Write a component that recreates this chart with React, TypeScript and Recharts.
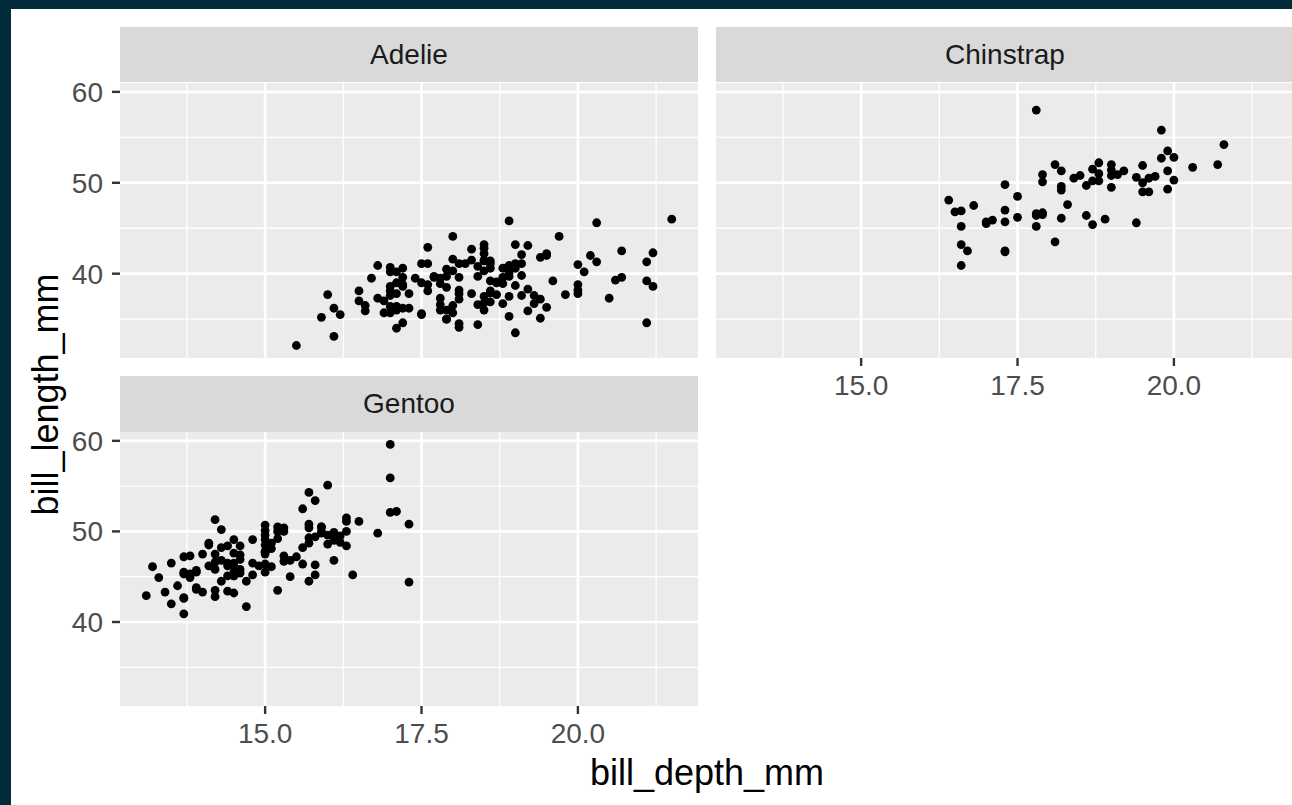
import React from 'react';
import { ScatterChart, Scatter, XAxis, YAxis, CartesianGrid, ReferenceLine } from 'recharts';

const FONT = '"Liberation Sans", Arial, Helvetica, sans-serif';

const speciesNames = ['Adelie', 'Chinstrap', 'Gentoo'];
const xTicks = [15, 17.5, 20];
const xMinor = [13.75, 16.25, 18.75, 21.25];
const yTicks = [40, 50, 60];
const yMinor = [35, 45, 55];
const xDomain: [number, number] = [12.68, 21.92];
const yDomain: [number, number] = [30.725, 60.975];
const xTitle = 'bill_depth_mm';
const yTitle = 'bill_length_mm';

// [bill_depth_mm, bill_length_mm]
const adelie: [number, number][] = [
  [18.7, 39.1], [17.4, 39.5], [18.0, 40.3], [19.3, 36.7], [20.6, 39.3], [17.8, 38.9], [19.6, 39.2], [18.1, 34.1], [20.2, 42.0], [17.1, 37.8],
  [17.3, 37.8], [17.6, 41.1], [21.2, 38.6], [21.1, 34.6], [17.8, 36.6], [19.0, 38.7], [20.7, 42.5], [18.4, 34.4], [21.5, 46.0], [18.3, 37.8],
  [18.7, 37.7], [19.2, 35.9], [18.1, 38.2], [17.2, 38.8], [18.9, 35.3], [18.6, 40.6], [17.9, 40.5], [18.6, 37.9], [18.9, 40.5], [16.7, 39.5],
  [18.1, 37.2], [17.8, 39.5], [18.9, 40.9], [17.0, 36.4], [21.1, 39.2], [20.0, 38.8], [18.5, 42.2], [19.3, 37.6], [19.1, 39.8], [18.0, 36.5],
  [18.4, 40.8], [18.5, 36.0], [19.7, 44.1], [16.9, 37.0], [18.8, 39.6], [19.0, 41.1], [18.9, 37.5], [17.9, 36.0], [21.2, 42.3], [17.7, 39.6],
  [18.9, 40.1], [17.9, 35.0], [19.5, 42.0], [18.1, 34.5], [18.6, 41.4], [17.5, 39.0], [18.8, 40.6], [16.6, 36.5], [19.1, 37.6], [16.9, 35.7],
  [21.1, 41.3], [17.0, 37.6], [18.2, 41.1], [17.1, 36.4], [18.0, 41.6], [16.2, 35.5], [19.1, 41.1], [16.6, 35.9], [19.4, 41.8], [19.0, 33.5],
  [18.4, 39.7], [17.2, 39.6], [18.9, 45.8], [17.5, 35.5], [18.5, 42.8], [16.8, 40.9], [19.4, 37.2], [16.1, 36.2], [19.1, 42.1], [17.2, 34.6],
  [17.6, 42.9], [18.8, 36.7], [19.4, 35.1], [17.8, 37.3], [20.3, 41.3], [19.5, 36.3], [18.6, 36.9], [19.2, 38.3], [18.8, 38.9], [18.0, 35.7],
  [18.1, 41.1], [17.1, 34.0], [18.1, 39.6], [17.3, 36.2], [18.9, 40.8], [18.6, 38.1], [18.5, 40.3], [16.1, 33.1], [18.5, 43.2], [17.9, 35.0],
  [20.0, 41.0], [16.0, 37.7], [20.0, 37.8], [18.6, 37.9], [18.9, 39.7], [17.2, 38.6], [20.0, 38.2], [17.0, 38.1], [19.0, 43.2], [16.5, 38.1],
  [20.3, 45.6], [17.7, 39.7], [19.5, 42.2], [20.7, 39.6], [18.3, 42.7], [17.0, 38.6], [20.5, 37.3], [17.0, 35.7], [18.6, 41.1], [17.2, 36.2],
  [19.8, 37.7], [17.0, 40.2], [18.5, 41.4], [15.9, 35.2], [19.0, 40.6], [17.6, 38.8], [18.3, 41.5], [17.1, 39.0], [18.0, 44.1], [17.9, 38.5],
  [19.2, 43.1], [18.5, 36.8], [18.5, 37.5], [17.6, 38.1], [17.5, 41.1], [17.5, 35.6], [20.1, 40.2], [16.5, 37.0], [17.9, 39.7], [17.1, 40.2],
  [17.2, 40.6], [15.5, 32.1], [17.0, 40.7], [16.8, 37.3], [18.7, 39.0], [18.6, 39.2], [18.4, 36.6], [17.8, 36.0], [18.1, 37.8], [17.1, 36.0],
  [18.5, 41.5],
];

const chinstrap: [number, number][] = [
  [17.9, 46.5], [19.5, 50.0], [19.2, 51.3], [18.7, 45.4], [19.8, 52.7], [17.8, 45.2], [18.2, 46.1], [18.2, 51.3], [18.9, 46.0], [19.9, 51.3],
  [17.8, 46.6], [20.3, 51.7], [17.3, 47.0], [18.1, 52.0], [17.1, 45.9], [19.6, 50.5], [20.0, 50.3], [17.8, 58.0], [18.6, 46.4], [18.2, 49.2],
  [17.3, 42.4], [17.5, 48.5], [16.6, 43.2], [19.4, 50.6], [17.9, 46.7], [19.0, 52.0], [18.4, 50.5], [19.0, 49.5], [17.8, 46.4], [20.0, 52.8],
  [16.6, 40.9], [20.8, 54.2], [16.7, 42.5], [18.8, 51.0], [18.6, 49.7], [16.8, 47.5], [18.3, 47.6], [20.7, 52.0], [16.6, 46.9], [19.9, 53.5],
  [19.5, 49.0], [17.5, 46.2], [19.1, 50.9], [17.0, 45.5], [17.9, 50.9], [18.5, 50.8], [17.9, 50.1], [19.6, 49.0], [18.7, 51.5], [17.3, 49.8],
  [16.4, 48.1], [19.0, 51.4], [17.3, 45.7], [19.7, 50.7], [17.3, 42.5], [18.8, 52.2], [16.6, 45.2], [19.9, 49.3], [18.8, 50.2], [19.4, 45.6],
  [19.5, 51.9], [16.5, 46.8], [17.0, 45.7], [19.8, 55.8], [18.1, 43.5], [18.2, 49.6], [19.0, 50.8], [18.7, 50.2],
];

const gentoo: [number, number][] = [
  [13.2, 46.1], [16.3, 50.0], [14.1, 48.7], [15.2, 50.0], [14.5, 47.6], [13.5, 46.5], [14.6, 45.4], [15.3, 46.7], [13.4, 43.3], [15.4, 46.8],
  [13.7, 40.9], [16.1, 49.0], [13.7, 45.5], [14.6, 48.4], [14.6, 45.8], [15.7, 49.3], [13.5, 42.0], [15.2, 49.2], [14.5, 46.2], [15.1, 48.7],
  [14.3, 50.2], [14.5, 45.1], [14.5, 46.5], [15.8, 46.3], [13.1, 42.9], [15.1, 46.1], [14.3, 44.5], [15.0, 47.8], [14.3, 48.2], [15.3, 50.0],
  [15.3, 47.3], [14.2, 42.8], [14.5, 45.1], [17.0, 59.6], [14.8, 49.1], [16.3, 48.4], [13.7, 42.6], [17.3, 44.4], [13.6, 44.0], [15.7, 48.7],
  [13.7, 42.7], [16.0, 49.6], [13.7, 45.3], [15.0, 49.6], [15.9, 50.5], [13.9, 43.6], [13.9, 45.5], [15.9, 50.5], [13.3, 44.9], [15.8, 45.2],
  [14.2, 46.6], [14.1, 48.5], [14.4, 45.1], [15.0, 50.1], [14.4, 46.5], [15.4, 45.0], [13.9, 43.8], [15.0, 45.5], [14.5, 43.2], [15.3, 50.4],
  [13.8, 45.3], [14.9, 46.2], [13.9, 45.7], [15.7, 54.3], [14.2, 45.8], [16.8, 49.8], [14.4, 46.2], [16.2, 49.5], [14.2, 43.5], [15.0, 50.7],
  [15.0, 47.7], [15.6, 46.4], [15.6, 48.2], [14.8, 46.5], [15.0, 46.4], [16.0, 48.6], [14.2, 47.5], [16.3, 51.1], [13.8, 45.2], [16.4, 45.2],
  [14.5, 49.1], [15.6, 52.5], [14.6, 47.4], [15.9, 50.0], [13.8, 44.9], [17.3, 50.8], [14.4, 43.4], [14.2, 51.3], [14.0, 47.5], [17.0, 52.1],
  [15.0, 47.5], [17.1, 52.2], [14.5, 45.5], [16.1, 49.5], [14.7, 44.5], [15.7, 50.8], [15.8, 49.4], [14.6, 46.9], [14.4, 48.4], [16.5, 51.1],
  [15.0, 48.5], [17.0, 55.9], [15.5, 47.2], [15.0, 49.1], [13.8, 47.3], [16.1, 46.8], [14.7, 41.7], [15.8, 53.4], [14.0, 43.3], [15.1, 48.1],
  [15.2, 50.5], [15.9, 49.8], [15.2, 43.5], [16.3, 51.5], [14.1, 46.2], [16.0, 55.1], [15.7, 44.5], [16.2, 48.8], [13.7, 47.2], [14.3, 46.8],
  [15.7, 50.4], [14.8, 45.2], [16.1, 49.9],
];

const toData = (rows: [number, number][]) => rows.map(([x, y]) => ({ x, y }));

function Dot(props: any) {
  const { cx, cy } = props;
  if (cx == null || cy == null) return null;
  return <circle cx={cx} cy={cy} r={4.4} fill="#000000" />;
}

const tickStyle = { fill: '#4D4D4D', fontSize: 28, fontFamily: FONT };
const tickLine = { stroke: '#333333', strokeWidth: 2.4 };

function Panel(props: { rows: [number, number][]; showX: boolean; showY: boolean; left: number; top: number; w: number; h: number }) {
  const { rows, showX, showY, left, top, w, h } = props;
  const xAxisH = showX ? 70 : 0;
  const yAxisW = showY ? 120 : 0;
  return (
    <div style={{ position: 'absolute', left: left - yAxisW, top }}>
      <ScatterChart width={w + yAxisW} height={h + xAxisH} margin={{ top: 0, right: 0, bottom: 0, left: 0 }}>
        <CartesianGrid fill="#EBEBEB" horizontal={false} vertical={false} stroke="none" />
        {xMinor.map((v) => (
          <ReferenceLine key={'xm' + v} x={v} stroke="#FFFFFF" strokeWidth={1.3} />
        ))}
        {yMinor.map((v) => (
          <ReferenceLine key={'ym' + v} y={v} stroke="#FFFFFF" strokeWidth={1.3} />
        ))}
        {xTicks.map((v) => (
          <ReferenceLine key={'xM' + v} x={v} stroke="#FFFFFF" strokeWidth={2.7} />
        ))}
        {yTicks.map((v) => (
          <ReferenceLine key={'yM' + v} y={v} stroke="#FFFFFF" strokeWidth={2.7} />
        ))}
        <XAxis
          type="number"
          dataKey="x"
          domain={xDomain}
          ticks={xTicks}
          interval={0}
          allowDataOverflow
          hide={!showX}
          height={xAxisH}
          axisLine={false}
          tickLine={tickLine}
          tickSize={8}
          tickMargin={9}
          tick={tickStyle}
          tickFormatter={(v: number) => v.toFixed(1)}
        />
        <YAxis
          type="number"
          dataKey="y"
          domain={yDomain}
          ticks={yTicks}
          interval={0}
          allowDataOverflow
          hide={!showY}
          width={yAxisW}
          axisLine={false}
          tickLine={tickLine}
          tickSize={8}
          tickMargin={9}
          tick={tickStyle}
        />
        <Scatter data={toData(rows)} shape={<Dot />} isAnimationActive={false} />
      </ScatterChart>
    </div>
  );
}

function Strip(props: { label: string; left: number; top: number; w: number; h: number }) {
  const { label, left, top, w, h } = props;
  return (
    <div
      style={{
        position: 'absolute',
        left,
        top,
        width: w,
        height: h,
        background: '#D9D9D9',
        color: '#1A1A1A',
        fontFamily: FONT,
        fontSize: 28,
        lineHeight: h + 'px',
        textAlign: 'center',
        whiteSpace: 'nowrap',
      }}
    >
      {label}
    </div>
  );
}

export default function App() {
  const W = 578;
  const H = 275;
  return (
    <div style={{ position: 'absolute', left: 0, top: 0, width: 1292, height: 805, background: '#022B3A', overflow: 'hidden' }}>
      <div style={{ position: 'absolute', left: 11, top: 9, width: 1281, height: 796, background: '#FFFFFF' }} />
      <Strip label={speciesNames[0]} left={120} top={27} w={W} h={55} />
      <Strip label={speciesNames[1]} left={716} top={27} w={W} h={55} />
      <Strip label={speciesNames[2]} left={120} top={376} w={W} h={56} />
      <Panel rows={adelie} showX={false} showY={true} left={120} top={83} w={W} h={H} />
      <Panel rows={chinstrap} showX={true} showY={false} left={716} top={83} w={W} h={H} />
      <Panel rows={gentoo} showX={true} showY={true} left={120} top={432} w={W} h={274} />
      <svg style={{ position: 'absolute', left: 0, top: 0 }} width={1292} height={805} pointerEvents="none">
        <text x={707} y={785} textAnchor="middle" fontFamily={FONT} fontSize={36} fill="#000000">
          {xTitle}
        </text>
        <text transform="translate(58,394.5) rotate(-90)" textAnchor="middle" fontFamily={FONT} fontSize={36} fill="#000000">
          {yTitle}
        </text>
      </svg>
    </div>
  );
}
